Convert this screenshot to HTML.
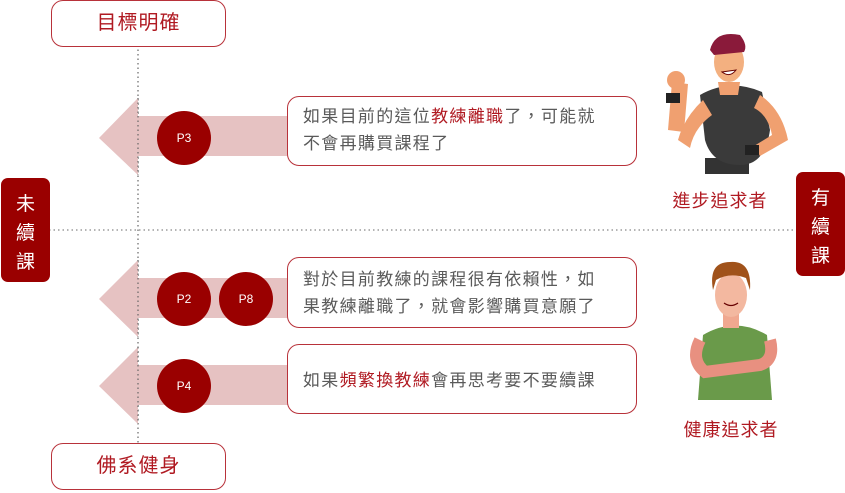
<!DOCTYPE html>
<html><head><meta charset="utf-8"><style>
body{margin:0;width:845px;height:493px;background:#fff;position:relative;overflow:hidden;font-family:"Liberation Sans","Noto Sans CJK TC",sans-serif}
.a{position:absolute}
.box{position:absolute;border:1.5px solid #b8323a;border-radius:12px;background:#fff;box-sizing:border-box}
.t{font-size:17px;color:#5a5a5a;letter-spacing:1.3px;line-height:27px}
.r{color:#b01a22}
.lab{color:#b01a22;font-size:18px;text-align:center;letter-spacing:1px}
.side{position:absolute;background:#9a0000;border-radius:7px;color:#fff;font-size:19px;line-height:29px;text-align:center;padding-top:12px;box-sizing:border-box}
</style></head><body>
<svg class="a" style="left:0;top:0" width="845" height="493">
<line x1="138" y1="36" x2="138" y2="443" stroke="#666" stroke-width="1.2" stroke-dasharray="1.5,3"/>
<line x1="49" y1="230" x2="795" y2="230" stroke="#888" stroke-width="1.2" stroke-dasharray="1.5,3"/>
<g fill="#e6c2c2">
<polygon points="99,138 138,98 138,116 290,116 290,156 138,156 138,175"/>
<polygon points="99,299 138,260 138,278 290,278 290,318 138,318 138,337"/>
<polygon points="99,386 138,347 138,365 290,365 290,405 138,405 138,424"/>
</g>
<line x1="138" y1="98" x2="138" y2="175" stroke="#666" stroke-width="1.2" stroke-dasharray="1.5,3"/>
<line x1="138" y1="260" x2="138" y2="337" stroke="#666" stroke-width="1.2" stroke-dasharray="1.5,3"/>
<line x1="138" y1="347" x2="138" y2="424" stroke="#666" stroke-width="1.2" stroke-dasharray="1.5,3"/>
<g fill="#9a0000">
<circle cx="184" cy="138" r="27"/><circle cx="184" cy="299" r="27"/><circle cx="246" cy="299" r="27"/><circle cx="184" cy="386" r="27"/>
</g>
<g fill="#fff" font-size="12" text-anchor="middle" font-family="Liberation Sans,sans-serif">
<text x="184" y="142">P3</text><text x="184" y="303">P2</text><text x="246" y="303">P8</text><text x="184" y="390">P4</text>
</g>
<!-- man 1 -->
<g>
<rect x="705" y="158" width="44" height="16" fill="#333"/>
<path d="M700,95 Q730,78 762,92 L770,130 Q765,165 740,165 Q712,165 705,140 Z" fill="#3a3a3a"/>
<path d="M703,100 Q684,118 678,140 L690,148 Q694,128 712,115 Z" fill="#f0a070"/>
<path d="M672,82 L668,130 L684,132 L688,84 Z" fill="#f0a070"/>
<circle cx="676" cy="80" r="9" fill="#f0a070"/>
<rect x="666" y="93" width="14" height="10" fill="#222"/>
<path d="M760,95 Q782,110 788,140 L760,156 L754,146 L772,135 Q768,115 754,108 Z" fill="#f0a070"/>
<rect x="745" y="145" width="14" height="10" fill="#222"/>
<path d="M718,82 L740,82 L738,95 L720,95 Z" fill="#f0a070"/>
<ellipse cx="729" cy="62" rx="15" ry="20" fill="#f3b080"/>
<path d="M710,50 Q715,30 740,35 Q748,45 744,52 L714,55 Z" fill="#8a1a3a"/>
<path d="M722,72 Q730,78 736,70 Z" fill="#fff" stroke="#600" stroke-width="1"/>
</g>
<!-- man 2 -->
<g>
<path d="M703,335 Q735,316 767,335 L772,400 L698,400 Z" fill="#6a9a4a"/>
<path d="M700,340 Q690,360 705,372 L760,365 Q775,360 770,340" fill="none" stroke="#e89080" stroke-width="12"/>
<rect x="723" y="310" width="16" height="18" fill="#f0a890"/>
<ellipse cx="731" cy="295" rx="16" ry="22" fill="#f3b8a0"/>
<path d="M713,290 Q708,262 730,262 Q752,260 750,290 L746,278 Q730,272 716,280 Z" fill="#a0521a"/>
<path d="M724,303 Q731,308 738,303" fill="none" stroke="#600" stroke-width="1.2"/>
</g>
</svg>
<div class="box" style="left:51px;top:0;width:175px;height:47px"><div class="lab" style="line-height:44px;font-size:20px">目標明確</div></div>
<div class="box" style="left:51px;top:443px;width:175px;height:47px"><div class="lab" style="line-height:44px;font-size:20px">佛系健身</div></div>
<div class="side" style="left:1px;top:178px;width:49px;height:104px">未<br>續<br>課</div>
<div class="side" style="left:796px;top:172px;width:49px;height:104px">有<br>續<br>課</div>
<div class="box t" style="left:287px;top:96px;width:350px;height:70px;padding:6px 0 0 15px">如果目前的這位<span class="r">教練離職</span>了，可能就<br>不會再購買課程了</div>
<div class="box t" style="left:287px;top:257px;width:350px;height:71px;padding:8px 0 0 15px">對於目前教練的課程很有依賴性，如<br>果教練離職了，就會影響購買意願了</div>
<div class="box t" style="left:287px;top:344px;width:350px;height:70px;padding:22px 0 0 15px">如果<span class="r">頻繁換教練</span>會再思考要不要續課</div>
<div class="a lab" style="left:660px;top:187px;width:120px">進步追求者</div>
<div class="a lab" style="left:671px;top:416px;width:120px">健康追求者</div>
</body></html>
